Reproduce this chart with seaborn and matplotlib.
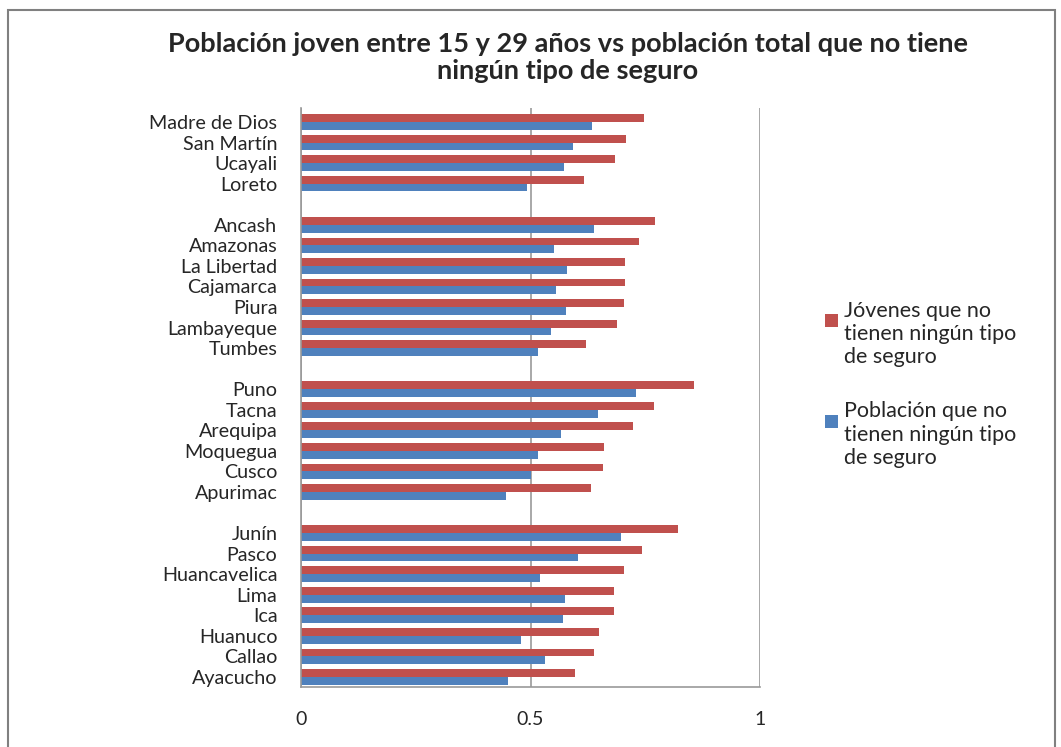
import matplotlib
matplotlib.use("Agg")
import matplotlib.pyplot as plt
import seaborn as sns
import pandas as pd
from matplotlib.patches import Rectangle
from matplotlib.legend_handler import HandlerPatch

# regions, top to bottom; blank strings are the gaps between groups
regions = ["Madre de Dios", "San Martín", "Ucayali", "Loreto", " ",
           "Ancash", "Amazonas", "La Libertad", "Cajamarca", "Piura", "Lambayeque", "Tumbes", "  ",
           "Puno", "Tacna", "Arequipa", "Moquegua", "Cusco", "Apurimac", "   ",
           "Junín", "Pasco", "Huancavelica", "Lima", "Ica", "Huanuco", "Callao", "Ayacucho"]

jovenes = [0.747, 0.708, 0.685, 0.616, None,
           0.772, 0.737, 0.706, 0.706, 0.703, 0.688, 0.621, None,
           0.857, 0.770, 0.724, 0.660, 0.657, 0.631, None,
           0.821, 0.744, 0.703, 0.683, 0.683, 0.650, 0.639, 0.596]

poblacion = [0.634, 0.593, 0.572, 0.492, None,
             0.639, 0.552, 0.580, 0.555, 0.578, 0.544, 0.516, None,
             0.729, 0.646, 0.566, 0.516, 0.500, 0.447, None,
             0.698, 0.604, 0.521, 0.575, 0.570, 0.480, 0.532, 0.452]

lab_j = "Jóvenes que no\ntienen ningún tipo\nde seguro"
lab_p = "Población que no\ntienen ningún tipo\nde seguro"

rows = []
for r, j, p in zip(regions, jovenes, poblacion):
    if j is None:
        continue
    rows.append({"region": r, "serie": lab_j, "valor": j})
    rows.append({"region": r, "serie": lab_p, "valor": p})
df = pd.DataFrame(rows)

sns.set_style("white")
plt.rcParams['font.family'] = ['Lato', 'DejaVu Sans']

fig = plt.figure(figsize=(10.61, 7.47), dpi=100)
ax = fig.add_axes([0.2837, 0.0803, 0.4326, 0.7751])

sns.barplot(data=df, y="region", x="valor", hue="serie", order=regions,
            hue_order=[lab_j, lab_p], palette=["#C0504D", "#4F81BD"],
            orient="h", width=0.76, ax=ax, saturation=1, linewidth=0)

ax.set_xlim(0, 1)
ax.set_ylim(27.49, -0.68)
ax.set_xticks([0, 0.5, 1])
ax.set_xticklabels(["0", "0.5", "1"], fontsize=14)
ax.tick_params(axis="x", length=0, pad=17)
ax.tick_params(axis="y", length=0, pad=17, labelsize=14.2)
ax.set_xlabel("")
ax.set_ylabel("")
ax.xaxis.grid(True, color="#999999", linewidth=1.2)
ax.set_axisbelow(True)
for side in ["top", "right"]:
    ax.spines[side].set_visible(False)
for side in ["left", "bottom"]:
    ax.spines[side].set_color("#999999")
    ax.spines[side].set_linewidth(1.2)


# legend square sits next to the first line of the wrapped label
def top_square(legend, orig_handle, xdescent, ydescent, width, height, fontsize):
    s = 0.6 * fontsize
    return Rectangle((-xdescent, -ydescent + height - s - 0.2 * fontsize), s, s)


handles, labels = ax.get_legend_handles_labels()
ax.legend(handles, labels, loc="center left", bbox_to_anchor=(1.1, 0.523), frameon=False,
          fontsize=15.5, handlelength=0.55, handleheight=3.3, handletextpad=0.3,
          labelspacing=1.6, handler_map={type(handles[0]): HandlerPatch(patch_func=top_square)})

fig.suptitle("Población joven entre 15 y 29 años vs población total que no tiene\nningún tipo de seguro",
             x=0.535, y=0.957, fontsize=19.5, fontweight="bold", linespacing=1.15)

fig.patches.append(Rectangle((0.008, -0.01), 0.986, 0.997, transform=fig.transFigure,
                             fill=False, edgecolor="#808080", linewidth=1.5))

fig.savefig("out.png", dpi=100)
